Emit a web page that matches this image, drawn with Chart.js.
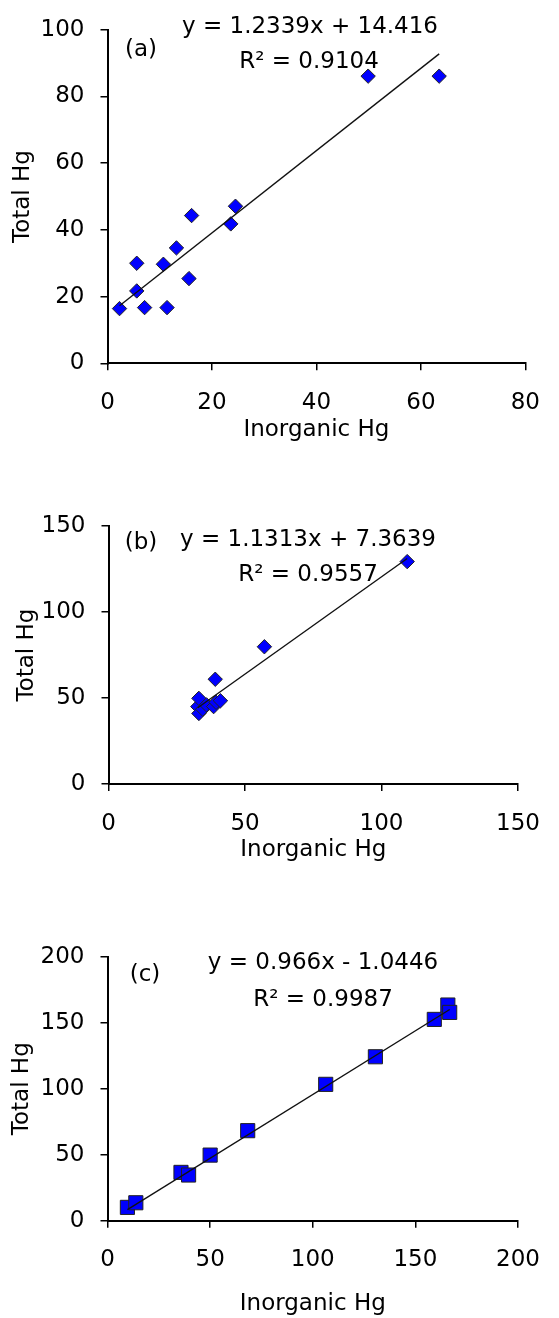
<!DOCTYPE html>
<html lang="en">
<head>
  <meta charset="UTF-8">
  <title>Total Hg vs Inorganic Hg</title>
  <style>
    body { margin: 0; background: #fff; }
    .wrap { position: relative; width: 559px; height: 1318px; }
    canvas { position: absolute; left: 0; }
  </style>
</head>
<body>
  <div class="wrap">
    <canvas id="chartA" width="559" height="460" style="top:0px"></canvas>
    <canvas id="chartB" width="559" height="420" style="top:460px"></canvas>
    <canvas id="chartC" width="559" height="438" style="top:880px"></canvas>
  </div>

  <script src="https://cdn.jsdelivr.net/npm/chart.js"></script>
  <script>
    // panel (a)
    const inorgA = [2.3, 5.6, 5.6, 7.1, 10.7, 11.4, 13.2, 15.6, 16.1, 23.6, 24.5, 49.9, 63.5];
    const totalA = [16.4, 30.0, 21.7, 16.7, 29.7, 16.7, 34.6, 25.4, 44.3, 41.8, 47.1, 86.1, 86.1];
    const fitA = [1.2339, 14.416]; // slope, intercept
    const textA = ['(a)', 'y = 1.2339x + 14.416', 'R² = 0.9104'];

    // panel (b)
    const inorgB = [32.7, 33.1, 33.1, 34.5, 35.9, 38.5, 39.4, 41.0, 39.1, 57.1, 109.4];
    const totalB = [45.0, 49.8, 41.0, 43.5, 46.0, 45.0, 47.5, 48.4, 60.9, 79.8, 129.3];
    const fitB = [1.1313, 7.3639];
    const textB = ['(b)', 'y = 1.1313x + 7.3639', 'R² = 0.9557'];

    // panel (c)
    const inorgC = [9.7, 13.8, 35.8, 39.5, 50.0, 68.3, 106.3, 130.5, 159.2, 165.8, 166.7];
    const totalC = [10.1, 13.6, 36.6, 34.6, 49.7, 68.2, 103.3, 124.2, 152.5, 163.4, 157.8];
    const fitC = [0.966, -1.0446];
    const textC = ['(c)', 'y = 0.966x - 1.0446', 'R² = 0.9987'];

    const xTitle = 'Inorganic Hg';
    const yTitle = 'Total Hg';

    const font = { family: '"DejaVu Sans"', size: 23 };

    function pts(xs, ys) {
      return xs.map((x, i) => ({ x: x, y: ys[i] }));
    }

    // trendline drawn between smallest and largest x
    function trend(xs, fit) {
      const lo = Math.min(...xs), hi = Math.max(...xs);
      return [{ x: lo, y: fit[0] * lo + fit[1] }, { x: hi, y: fit[0] * hi + fit[1] }];
    }

    function notes(texts, spots) {
      return {
        id: 'notes',
        afterDraw(chart) {
          const ctx = chart.ctx;
          ctx.save();
          ctx.font = '23px "DejaVu Sans"';
          ctx.fillStyle = '#000';
          ctx.textAlign = 'center';
          ctx.textBaseline = 'middle';
          texts.forEach((t, i) => ctx.fillText(t, spots[i][0], spots[i][1]));
          ctx.restore();
        }
      };
    }

    function makeChart(id, c) {
      return new Chart(document.getElementById(id), {
        type: 'scatter',
        data: {
          datasets: [
            {
              type: 'line',
              data: trend(c.xs, c.fit),
              borderColor: '#111',
              borderWidth: 1.4,
              pointRadius: 0,
              fill: false
            },
            {
              data: pts(c.xs, c.ys),
              pointStyle: c.marker,
              pointRadius: c.radius,
              pointHoverRadius: c.radius,
              backgroundColor: '#0000ff',
              borderColor: '#222',
              borderWidth: 1
            }
          ]
        },
        options: {
          responsive: false,
          animation: false,
          events: [],
          layout: { padding: c.pad },
          plugins: { legend: { display: false }, tooltip: { enabled: false } },
          scales: {
            x: {
              type: 'linear',
              min: 0,
              max: c.max,
              ticks: { stepSize: c.step, color: '#000', font: font, padding: 19, maxRotation: 0 },
              grid: { drawOnChartArea: false, color: '#000', lineWidth: 1.5, tickLength: 7 },
              border: { color: '#000', width: 2 },
              title: { display: true, text: xTitle, color: '#000', font: font, padding: { top: 0, bottom: c.xTitlePad } },
              afterFit: s => { s.height = c.xHeight; }
            },
            y: {
              type: 'linear',
              min: 0,
              max: c.max2,
              ticks: { stepSize: c.step, color: '#000', font: font, padding: 16 },
              grid: { drawOnChartArea: false, color: '#000', lineWidth: 1.5, tickLength: 7 },
              border: { color: '#000', width: 2 },
              title: { display: true, text: yTitle, color: '#000', font: font, padding: { top: c.yTitlePad, bottom: 0 } },
              afterFit: s => { s.width = c.yWidth; }
            }
          }
        },
        plugins: [notes(c.texts, c.spots)]
      });
    }

    makeChart('chartA', {
      xs: inorgA, ys: totalA, fit: fitA, texts: textA,
      spots: [[141, 50], [310, 27], [309, 62]],
      max: 80, max2: 100, step: 20,
      marker: 'rectRot', radius: 7.2,
      pad: { top: 28, right: 16, bottom: 0, left: 0 },
      yWidth: 107.5, xHeight: 96.7, xTitlePad: 16, yTitlePad: 9.5
    });

    makeChart('chartB', {
      xs: inorgB, ys: totalB, fit: fitB, texts: textB,
      spots: [[141, 83], [308, 80], [308, 115]],
      max: 150, max2: 150, step: 50,
      marker: 'rectRot', radius: 7.2,
      pad: { top: 66, right: 30, bottom: 0, left: 0 },
      yWidth: 108.5, xHeight: 96, xTitlePad: 16, yTitlePad: 13
    });

    makeChart('chartC', {
      xs: inorgC, ys: totalC, fit: fitC, texts: textC,
      spots: [[145, 95], [323, 83], [323, 120]],
      max: 200, max2: 200, step: 50,
      marker: 'rect', radius: 10,
      pad: { top: 76.7, right: 21, bottom: 0, left: 0 },
      yWidth: 107.5, xHeight: 97.3, xTitlePad: 0, yTitlePad: 8
    });
  </script>
</body>
</html>
